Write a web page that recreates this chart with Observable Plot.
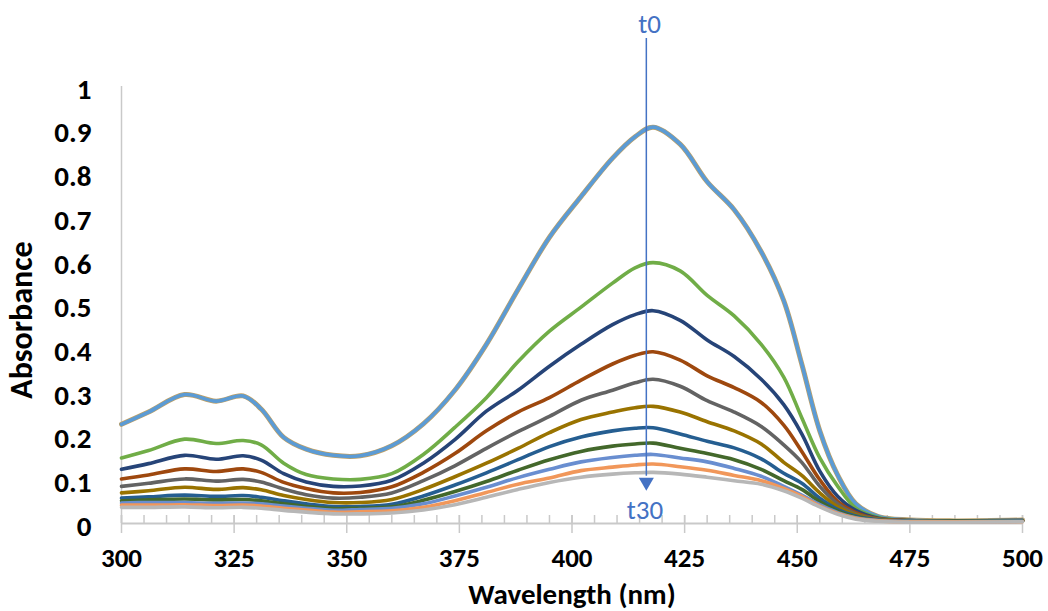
<!DOCTYPE html>
<html>
<head>
<meta charset="utf-8">
<script src="https://cdn.jsdelivr.net/npm/d3@7"></script>
<script src="https://cdn.jsdelivr.net/npm/@observablehq/plot@0.6"></script>
<style>
  html, body { margin: 0; padding: 0; background: #fff; }
  #chart { width: 1048px; height: 611px; }
</style>
</head>
<body>
<div id="chart"></div>
<script>
// Wavelength grid (nm)
const wavelengths = [300,306,314,321,327,331,336,341,347,353,360,367,374,381,388,395,402,409,414,418,424,430,436,442,447,451,455,459,463,468,475,485,500];

const seriesNames = ["t0","t3","t6","t9","t12","t15","t18","t21","t24","t27","t30"];
const seriesColors = ["#5B9BD5","#70AD47","#264478","#9E480E","#636363","#997300","#255E91","#43682B","#698ED0","#F1975A","#B7B7B7"];

const t0  = [0.227,0.255,0.295,0.280,0.292,0.262,0.197,0.170,0.156,0.155,0.178,0.228,0.305,0.410,0.535,0.655,0.748,0.836,0.885,0.907,0.868,0.782,0.718,0.622,0.510,0.365,0.212,0.110,0.045,0.016,0.008,0.006,0.008];
const t3  = [0.150,0.167,0.193,0.183,0.190,0.180,0.138,0.112,0.102,0.101,0.114,0.158,0.220,0.288,0.370,0.440,0.495,0.550,0.585,0.597,0.578,0.522,0.475,0.410,0.335,0.242,0.150,0.085,0.035,0.014,0.007,0.006,0.007];
const t6  = [0.124,0.137,0.156,0.147,0.155,0.145,0.114,0.095,0.085,0.086,0.099,0.138,0.192,0.257,0.305,0.360,0.410,0.455,0.478,0.487,0.465,0.420,0.382,0.330,0.272,0.205,0.120,0.062,0.030,0.012,0.007,0.006,0.007];
const t9  = [0.102,0.111,0.125,0.119,0.125,0.117,0.094,0.080,0.070,0.071,0.084,0.117,0.160,0.212,0.255,0.288,0.328,0.365,0.385,0.393,0.374,0.338,0.311,0.277,0.225,0.165,0.100,0.050,0.025,0.011,0.007,0.006,0.007];
const t12 = [0.085,0.092,0.102,0.097,0.101,0.095,0.079,0.066,0.058,0.060,0.070,0.098,0.132,0.172,0.210,0.245,0.282,0.305,0.322,0.330,0.314,0.281,0.255,0.222,0.180,0.140,0.085,0.045,0.022,0.010,0.006,0.005,0.006];
const t15 = [0.070,0.075,0.083,0.078,0.082,0.077,0.064,0.055,0.048,0.048,0.055,0.078,0.107,0.138,0.172,0.208,0.238,0.255,0.265,0.268,0.255,0.233,0.212,0.182,0.140,0.110,0.070,0.038,0.020,0.009,0.006,0.005,0.006];
const t18 = [0.058,0.061,0.065,0.062,0.064,0.060,0.052,0.045,0.039,0.039,0.044,0.063,0.088,0.116,0.146,0.176,0.198,0.212,0.218,0.219,0.205,0.188,0.173,0.148,0.115,0.092,0.058,0.032,0.017,0.008,0.005,0.005,0.005];
const t21 = [0.052,0.054,0.056,0.054,0.055,0.052,0.045,0.039,0.034,0.035,0.038,0.053,0.073,0.096,0.122,0.146,0.165,0.177,0.182,0.184,0.172,0.160,0.146,0.124,0.098,0.078,0.050,0.028,0.015,0.007,0.005,0.005,0.005];
const t24 = [0.047,0.048,0.048,0.046,0.047,0.045,0.040,0.035,0.030,0.032,0.035,0.045,0.063,0.083,0.105,0.124,0.141,0.151,0.156,0.158,0.150,0.141,0.126,0.108,0.085,0.065,0.043,0.025,0.013,0.007,0.005,0.004,0.005];
const t27 = [0.042,0.042,0.043,0.041,0.042,0.040,0.035,0.031,0.026,0.027,0.029,0.037,0.052,0.071,0.090,0.104,0.121,0.129,0.134,0.136,0.130,0.122,0.110,0.098,0.080,0.062,0.040,0.023,0.012,0.006,0.004,0.004,0.004];
const t30 = [0.037,0.037,0.038,0.036,0.037,0.035,0.030,0.026,0.022,0.022,0.024,0.031,0.043,0.060,0.078,0.094,0.106,0.113,0.116,0.117,0.113,0.106,0.098,0.090,0.075,0.058,0.038,0.021,0.010,0.005,0.003,0.003,0.004];

const seriesValues = [t0,t3,t6,t9,t12,t15,t18,t21,t24,t27,t30];

// Axis ticks
const xMajorTicks = [300,325,350,375,400,425,450,475,500];
const xMinorTicks = d3.range(300, 501, 5);
const yTicks = [0,0.1,0.2,0.3,0.4,0.5,0.6,0.7,0.8,0.9,1];

// Annotation (time arrow)
const arrowX = 416.5;
const arrowTop = 1.11;
const arrowBottom = 0.108;
const arrowHeadY = 0.095;
const labelTop = {text: "t0", x: 417.2, y: 1.143};
const labelBottom = {text: "t30", x: 416.2, y: 0.030};

const rows = [];
seriesNames.forEach((s, i) => {
  wavelengths.forEach((w, j) => rows.push({s, w, a: seriesValues[i][j]}));
});
const topRows = rows.filter(d => d.s === "t0");

const FONT = "Carlito, Calibri, 'Open Sans', sans-serif";
const ACCENT = "#4472C4";
const AXIS = "#C9C9C9";

const chart = Plot.plot({
  width: 1048,
  height: 611,
  marginLeft: 121,
  marginRight: 26,
  marginTop: 86,
  marginBottom: 88,
  style: {fontFamily: FONT, background: "#fff", overflow: "visible"},
  x: {domain: [300, 500], axis: null},
  y: {domain: [0, 1], axis: null},
  color: {domain: seriesNames, range: seriesColors},
  marks: [
    // axis lines
    Plot.ruleX([300], {stroke: AXIS, strokeWidth: 1.5}),
    Plot.ruleY([0], {stroke: AXIS, strokeWidth: 2}),
    // x ticks
    Plot.axisX({ticks: xMinorTicks, tickSize: 8, dy: -8, tickFormat: () => "", stroke: AXIS, strokeWidth: 1.5}),
    Plot.axisX({ticks: xMajorTicks, tickSize: 18, dy: -8, tickFormat: () => "", stroke: AXIS, strokeWidth: 1.5}),
    Plot.axisX({ticks: xMajorTicks, tickSize: 0, tickPadding: 24, tickFormat: d => String(d),
      fontSize: 27, fontWeight: "bold", fill: "#000", label: null}),
    Plot.axisY({ticks: yTicks, tickSize: 0, tickPadding: 30, tickFormat: d => String(d),
      fontSize: 29, fontWeight: "bold", fill: "#000", label: null, dy: 3}),
    Plot.text(["Absorbance"], {frameAnchor: "left", textAnchor: "middle", dx: -100, dy: 15, rotate: -90, fontSize: 32, fontWeight: "bold", fill: "#000"}),
    Plot.text(["Wavelength (nm)"], {frameAnchor: "bottom", dy: 80, fontSize: 29, fontWeight: "bold", fill: "#000"}),
    // spectra
    Plot.line(topRows, {x: "w", y: "a", stroke: "#BFA066", strokeWidth: 5, curve: "catmull-rom"}),
    Plot.line(rows, {x: "w", y: "a", z: "s", stroke: "s", strokeWidth: 3.6, curve: "catmull-rom"}),
    // time arrow
    Plot.ruleX([arrowX], {y1: arrowTop, y2: arrowBottom, stroke: ACCENT, strokeWidth: 1.5}),
    Plot.dot([arrowX], {x: d => d, y: arrowHeadY, symbol: "triangle", rotate: 180, r: 5.6, fill: ACCENT, stroke: "none"}),
    Plot.text([labelTop, labelBottom], {x: "x", y: "y", text: "text", fill: ACCENT, fontSize: 27})
  ]
});

document.getElementById("chart").appendChild(chart);
</script>
</body>
</html>
